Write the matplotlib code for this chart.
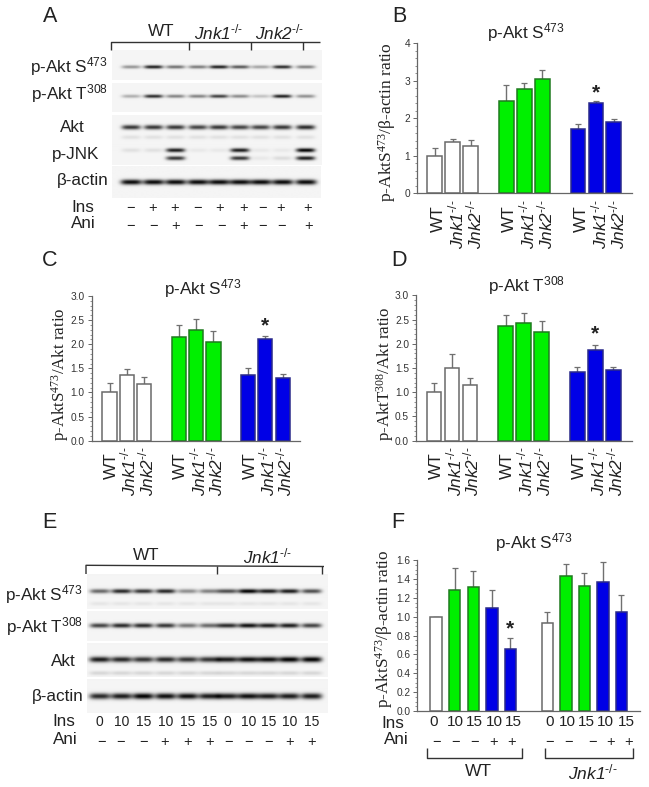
import numpy as np
import matplotlib
matplotlib.use('Agg')
import matplotlib.pyplot as plt
from matplotlib.ticker import MultipleLocator
from matplotlib.transforms import ScaledTranslation

W, H = 649, 787
plt.rcParams['font.family'] = ['Liberation Sans', 'DejaVu Sans']
plt.rcParams['mathtext.default'] = 'regular'
plt.rcParams['mathtext.fontset'] = 'custom'
plt.rcParams['mathtext.rm'] = 'Liberation Sans'
plt.rcParams['mathtext.it'] = 'Liberation Sans:italic'
plt.rcParams['mathtext.bf'] = 'Liberation Sans:bold'

SUP = r'$^{\text{-/-}}$'

# ---------- data ----------
geno = ['WT', 'Jnk1' + SUP, 'Jnk2' + SUP] * 3
pos9 = [0, 1, 2, 4, 5, 6, 8, 9, 10]
col9 = ['white'] * 3 + ['green'] * 3 + ['blue'] * 3

b_val = [1.0, 1.38, 1.26, 2.46, 2.77, 3.06, 1.72, 2.40, 1.91]
b_top = [1.2, 1.44, 1.41, 2.90, 2.95, 3.29, 1.86, 2.47, 1.98]
c_val = [1.0, 1.37, 1.17, 2.14, 2.30, 2.05, 1.36, 2.11, 1.31]
c_top = [1.2, 1.48, 1.32, 2.39, 2.52, 2.28, 1.50, 2.18, 1.38]
d_val = [1.0, 1.49, 1.14, 2.36, 2.42, 2.25, 1.42, 1.88, 1.46]
d_top = [1.2, 1.79, 1.29, 2.60, 2.64, 2.48, 1.52, 1.98, 1.53]
pos10 = [0, 1, 2, 3, 4, 6, 7, 8, 9, 10]
col10 = ['white', 'green', 'green', 'blue', 'blue'] * 2
f_val = [1.0, 1.28, 1.32, 1.09, 0.66, 0.93, 1.43, 1.33, 1.37, 1.05]
f_top = [1.0, 1.52, 1.49, 1.28, 0.77, 1.05, 1.56, 1.46, 1.58, 1.23]

# blot band strength per lane (0 = none, 1 = black)
a_s473 = [.38, .85, .52, .48, .85, .62, .32, .80, .45]
a_t308 = [.28, .80, .45, .45, .72, .42, .20, .85, .40]
a_akt = [.75, .75, .75, .70, .75, .70, .70, .75, .80]
a_jnk_up = [.08, .08, .85, .05, .05, .85, .05, .05, .95]
a_jnk_lo = [0, 0, .75, 0, 0, .75, .05, .10, .85]
a_act = [.92] * 9
e_s473 = [.55, .80, .75, .80, .40, .45, .65, .95, .85, .85, .65]
e_t308 = [.70, .80, .80, .75, .50, .55, .80, .90, .85, .85, .70]
e_akt = [.85, .80, .75, .80, .75, .75, .85, .90, .90, .95, .95]
e_akt_low = [.12] * 11
e_act = [.80, .85, .95, .90, .90, .85, .85, .90, .85, .85, .85]

a_ins = ['−', '+', '+', '−', '+', '+', '−', '+', '+']
a_ani = ['−', '−', '+', '−', '−', '+', '−', '−', '+']
e_ins = ['0', '10', '15', '10', '15', '15', '0', '10', '15', '10', '15']
e_ani = ['−', '−', '−', '+', '+', '+', '−', '−', '−', '+', '+']
f_ins = ['0', '10', '15', '10', '15', '0', '10', '15', '10', '15']
f_ani = ['−', '−', '−', '+', '+', '−', '−', '−', '+', '+']

FILL = {'white': 'white', 'green': '#00f000', 'blue': '#0000e6'}
EDGE = {'white': '#6a6a6a', 'green': '#1f7a1f', 'blue': '#2a2a8a'}
AXC = '#666666'
TXT = '#222222'

fig = plt.figure(figsize=(W / 100, H / 100), dpi=100)
ov = fig.add_axes([0, 0, 1, 1], zorder=0)
ov.set_axis_off()


def z(v, o=0):
    """zoom coordinates to pixels"""
    return o + v / 3


def blot(x0, x1, y0, y1, lanes, bands, half=9.5, bg=.96):
    xs = np.arange(z(x0), z(x1), .5)
    ys = np.arange(y0, y1, .5)
    X, Y = np.meshgrid(xs, ys)
    img = np.full(X.shape, bg)
    for yc, sy, vals in bands:
        for lx, v in zip(lanes, vals):
            prof = np.exp(-((X - z(lx)) / half) ** 4)
            img -= v * prof * np.exp(-((Y - yc) / sy) ** 2)
    ov.imshow(np.clip(img, 0, 1), cmap='gray', vmin=0, vmax=1, aspect='auto',
              extent=[z(x0), z(x1), y1, y0], interpolation='bilinear', zorder=1)


lanesA = [392, 459, 525, 592, 655, 718, 780, 845, 915]
blot(335, 965, 50, 80, lanesA, [(66.7, 1.7, a_s473)])
blot(335, 965, 82.7, 111.7, lanesA, [(95.7, 1.7, a_t308)])
blot(335, 965, 115, 141.7, lanesA, [(127, 2.3, a_akt), (137, 2, [.08] * 9)])
blot(335, 965, 142.7, 165, lanesA, [(150.5, 2.0, a_jnk_up), (158.3, 2.0, a_jnk_lo)])
blot(335, 960, 166.7, 198, lanesA, [(182.3, 2.6, a_act)], half=10.5)

lanesE = [300, 365, 430, 497, 563, 628, 683, 745, 805, 868, 935]
blot(262, 985, 575, 609.3, lanesE, [(591.7, 2.2, e_s473), (604, 2, [.06] * 11)], half=10)
blot(262, 985, 611, 640.7, lanesE, [(625.3, 2.3, e_t308)], half=10)
blot(262, 985, 643.3, 676.7, lanesE, [(659.3, 2.8, e_akt), (672.7, 2.0, e_akt_low)], half=10.5)
blot(262, 985, 680, 713.3, lanesE, [(696.7, 3.0, e_act)], half=10.5)
ov.set_xlim(0, W)
ov.set_ylim(H, 0)


def t(x, y, s, size=12.3, ha='center', va='center', **kw):
    kw.setdefault('color', TXT)
    ov.text(x, y, s, fontsize=size, ha=ha, va=va, **kw)


def line(xs, ys, lw=1.0):
    ov.plot(xs, ys, color='#333333', lw=lw, solid_capstyle='butt', zorder=3)


# panel letters
for s, x, y in [('A', 50, 16), ('B', 399, 16), ('C', 50, 260), ('D', 399, 260),
                ('E', 49, 523), ('F', 398, 523)]:
    t(x, y, s, size=15.5)

# panel A annotations
t(161, 32, 'WT')
t(219, 32, 'Jnk1' + SUP, style='italic')
t(280, 32, 'Jnk2' + SUP, style='italic')
line([z(332), z(332), z(960)], [50, 41.7, 41.7])
for xt in (568, 752, 908):
    line([z(xt), z(xt)], [41.7, 50])
t(108, 67, 'p-Akt S$^{473}$', ha='right')
t(108, 94, 'p-Akt T$^{308}$', ha='right')
t(72, 127.5, 'Akt')
t(76, 155, 'p-JNK')
t(83, 181, 'β-actin')
t(83, 207, 'Ins')
t(83, 224, 'Ani')
for xt, s in zip([392, 459, 525, 592, 658, 730, 787, 843, 922], a_ins):
    t(z(xt), 208, s, size=10.5)
for xt, s in zip([392, 460, 527, 595, 665, 730, 787, 845, 925], a_ani):
    t(z(xt), 226, s, size=10.5)

# panel E annotations
t(146, 556, 'WT')
t(268, 556, 'Jnk1' + SUP, style='italic')
line([z(258), z(258), z(651), z(965), z(972)], [574, 565.3, 566, 566.5, 566.5])
for xt in (651, 965):
    line([z(xt), z(xt)], [566, 574])
t(83, 595, 'p-Akt S$^{473}$', ha='right')
t(83, 627, 'p-Akt T$^{308}$', ha='right')
t(63, 661, 'Akt')
t(58, 697, 'β-actin')
t(64, 722, 'Ins')
t(65, 739, 'Ani')
for xt, s in zip([298, 365, 430, 497, 563, 630, 683, 745, 805, 870, 935], e_ins):
    t(z(xt), 722, s, size=10)
for xt, s in zip([305, 362, 430, 495, 563, 630, 685, 745, 805, 870, 935], e_ani):
    t(z(xt), 742, s, size=10.5)

# panel F annotations
t(393, 723, 'Ins')
t(396, 740, 'Ani')
for xt, s in zip([280, 347, 402, 463, 520, 628, 683, 738, 795, 858], f_ins):
    t(z(xt, 340), 722.5, s, size=11)
for xt, s in zip([290, 347, 403, 460, 516, 628, 685, 757, 812, 867], f_ani):
    t(z(xt, 340), 742, s, size=10.5)
for a, b in [(260, 545), (615, 878)]:
    line([z(a, 340), z(a, 340), z(b, 340), z(b, 340)], [748, 757.7, 757.7, 748])
t(z(415, 340), 772, 'WT', size=12.5)
t(z(758, 340), 772, 'Jnk1' + SUP, size=12.5, style='italic')


def bars(rect, pos, vals, tops, cols, width, ymax, major, minor, labels, xlim,
         star, title, tpos, ylab, ypos, ysize, fmt, dx=0):
    l, r, tp, b = rect
    ax = fig.add_axes([l / W, 1 - b / H, (r - l) / W, (b - tp) / H], zorder=2)
    ax.patch.set_alpha(0)
    ax.set_xlim(*xlim)
    ax.set_ylim(0, ymax)
    for x, v, u, c in zip(pos, vals, tops, cols):
        ax.errorbar(x, v, yerr=[[0], [u - v]], color='#707070', lw=1.0, capsize=2.2,
                    capthick=.9, zorder=1)
        ax.bar(x, v, width=width, color=FILL[c], edgecolor=EDGE[c], lw=1.1, zorder=2)
    for s in ('top', 'right'):
        ax.spines[s].set_visible(False)
    for s in ('left', 'bottom'):
        ax.spines[s].set_color(AXC)
        ax.spines[s].set_linewidth(.9)
    ax.yaxis.set_major_locator(MultipleLocator(major))
    ax.yaxis.set_minor_locator(MultipleLocator(minor))
    ax.yaxis.set_major_formatter(fmt)
    ax.tick_params(axis='y', which='major', length=3, width=.7, color=AXC, labelsize=7.3,
                   labelcolor='#333333', pad=2)
    ax.tick_params(axis='y', which='minor', length=1.5, width=.5, color=AXC)
    if labels:
        ax.set_xticks(pos, labels, rotation=90, ha='center', va='top', fontsize=12.4)
        ax.tick_params(axis='x', length=0, labelcolor=TXT)
        for tk, lab in zip(ax.xaxis.get_major_ticks(), labels):
            if lab == 'WT':
                tk.set_pad(8.5)
                tk.label1.set_fontstyle('normal')
            else:
                tk.set_pad(4.5)
                tk.label1.set_fontstyle('italic')
            tk.label1.set_transform(tk.label1.get_transform()
                                    + ScaledTranslation(dx / 100, 0, fig.dpi_scale_trans))
    else:
        ax.set_xticks([])
    sx, sy = star
    ax.annotate('*', (sx, sy), xytext=(0, -3), textcoords='offset points', ha='center',
                va='center', fontsize=15, fontweight='bold', color=TXT, zorder=3)
    t(tpos[0], tpos[1], title)
    ov.text(ypos[0], ypos[1], ylab, rotation=90, ha='center', va='center', fontsize=ysize,
            family=['Liberation Serif', 'DejaVu Serif'], color=TXT)
    return ax


f0 = '{x:.0f}'
f1 = '{x:.1f}'
bars((417, 631.7, 43.3, 193.3), pos9, b_val, b_top, col9, .82, 4, 1, .2, geno,
     (-.99, 11), (9, 2.8), 'p-Akt S$^{473}$', (526, 33), 'p-AktS$^{473}$/β-actin ratio',
     (387, 122), 12.5, f0, dx=3.5)
bars((91.7, 300, 296, 440.7), pos9, c_val, c_top, col9, .82, 3, .5, .1, geno,
     (-1.03, 11), (9, 2.47), 'p-Akt S$^{473}$', (203, 289), 'p-AktS$^{473}$/Akt ratio',
     (60, 374), 12.2, f1, dx=2)
bars((416, 631.7, 295.3, 440.7), pos9, d_val, d_top, col9, .82, 3, .5, .1, geno,
     (-1.01, 11.03), (9, 2.28), 'p-Akt T$^{308}$', (526, 286), 'p-AktT$^{308}$/Akt ratio',
     (385, 374), 12.2, f1, dx=2)
bars((417.3, 640, 560.3, 711), pos10, f_val, f_top, col10, .62, 1.6, .2, .05, None,
     (-1.02, 11), (4, .92), 'p-Akt S$^{473}$', (534, 543), 'p-AktS$^{473}$/β-actin ratio',
     (384, 629), 12.4, f1)

fig.savefig('out.png', dpi=100)
